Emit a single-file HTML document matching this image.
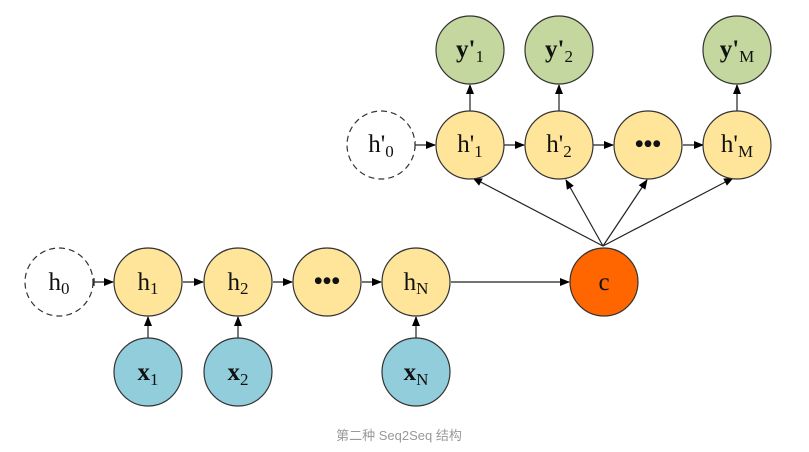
<!DOCTYPE html>
<html><head><meta charset="utf-8"><style>
html,body{margin:0;padding:0;background:#fff;width:809px;height:452px;overflow:hidden}
svg text{font-family:"Liberation Serif",serif;fill:#111}
</style></head><body>
<svg width="809" height="452" viewBox="0 0 809 452" xmlns="http://www.w3.org/2000/svg">
<defs>
<marker id="a" markerWidth="10" markerHeight="8" refX="9" refY="4" orient="auto" markerUnits="userSpaceOnUse">
<path d="M0,0 L10,4 L0,8 z" fill="#000"/></marker>
</defs>
<g stroke="#222" stroke-width="1.2" fill="none" marker-end="url(#a)">
<line x1="94" y1="282" x2="113" y2="282"/>
<line x1="183" y1="282" x2="203" y2="282"/>
<line x1="273" y1="282" x2="292" y2="282"/>
<line x1="362" y1="282" x2="381" y2="282"/>
<line x1="451" y1="282" x2="569" y2="282"/>
<line x1="148" y1="338" x2="148" y2="317"/>
<line x1="238" y1="338" x2="238" y2="317"/>
<line x1="416" y1="338" x2="416" y2="317"/>
<line x1="415" y1="145" x2="435" y2="145"/>
<line x1="504" y1="145" x2="524" y2="145"/>
<line x1="593" y1="145" x2="613" y2="145"/>
<line x1="683" y1="145" x2="703" y2="145"/>
<line x1="470" y1="111" x2="470" y2="85"/>
<line x1="559" y1="111" x2="559" y2="85"/>
<line x1="737" y1="111" x2="737" y2="85"/>
<line x1="603" y1="246" x2="473" y2="178"/>
<line x1="603" y1="246" x2="566" y2="180"/>
<line x1="603" y1="246" x2="647" y2="180"/>
<line x1="603" y1="246" x2="733" y2="178"/>
</g>
<line x1="94" y1="278" x2="94" y2="286" stroke="#222" stroke-width="1.2"/>
<line x1="415" y1="141" x2="415" y2="149" stroke="#222" stroke-width="1.2"/>
<g stroke="#333" stroke-width="1.2">
<circle cx="59" cy="282" r="34" fill="#fff" stroke-dasharray="6,4"/>
<circle cx="148" cy="282" r="34" fill="#FEE599"/>
<circle cx="238" cy="282" r="34" fill="#FEE599"/>
<circle cx="327" cy="282" r="34" fill="#FEE599"/>
<circle cx="416" cy="282" r="34" fill="#FEE599"/>
<circle cx="148" cy="372" r="34" fill="#92CDDC"/>
<circle cx="238" cy="372" r="34" fill="#92CDDC"/>
<circle cx="416" cy="372" r="34" fill="#92CDDC"/>
<circle cx="604" cy="282" r="34" fill="#FF6600"/>
<circle cx="381" cy="145" r="34" fill="#fff" stroke-dasharray="6,4"/>
<circle cx="470" cy="145" r="34" fill="#FEE599"/>
<circle cx="559" cy="145" r="34" fill="#FEE599"/>
<circle cx="648" cy="145" r="34" fill="#FEE599"/>
<circle cx="737" cy="145" r="34" fill="#FEE599"/>
<circle cx="470" cy="50" r="34" fill="#C4D79E"/>
<circle cx="559" cy="50" r="34" fill="#C4D79E"/>
<circle cx="737" cy="50" r="34" fill="#C4D79E"/>
</g>
<g font-size="25" text-anchor="middle">
<text x="59" y="290">h<tspan font-size="17" dy="4">0</tspan></text>
<text x="148" y="290">h<tspan font-size="17" dy="4">1</tspan></text>
<text x="238" y="290">h<tspan font-size="17" dy="4">2</tspan></text>
<text x="327" y="289" font-weight="bold">•••</text>
<text x="416" y="290">h<tspan font-size="17" dy="4">N</tspan></text>
<text x="148" y="380" font-weight="bold">x<tspan font-size="17" dy="5" font-weight="normal">1</tspan></text>
<text x="238" y="380" font-weight="bold">x<tspan font-size="17" dy="5" font-weight="normal">2</tspan></text>
<text x="416" y="380" font-weight="bold">x<tspan font-size="17" dy="5" font-weight="normal">N</tspan></text>
<text x="604" y="290">c</text>
<text x="381" y="152">h'<tspan font-size="17" dy="5">0</tspan></text>
<text x="470" y="152">h'<tspan font-size="17" dy="5">1</tspan></text>
<text x="559" y="152">h'<tspan font-size="17" dy="5">2</tspan></text>
<text x="648" y="152" font-weight="bold">•••</text>
<text x="737" y="152">h'<tspan font-size="17" dy="5">M</tspan></text>
<text x="470" y="57" font-weight="bold">y'<tspan font-size="17" dy="5" font-weight="normal">1</tspan></text>
<text x="559" y="57" font-weight="bold">y'<tspan font-size="17" dy="5" font-weight="normal">2</tspan></text>
<text x="737" y="57" font-weight="bold">y'<tspan font-size="17" dy="5" font-weight="normal">M</tspan></text>
</g>
<text x="399" y="440" text-anchor="middle" font-size="13" style="font-family:'Liberation Sans','Noto Sans CJK SC',sans-serif;fill:#999">第二种 Seq2Seq 结构</text>
</svg>
</body></html>
